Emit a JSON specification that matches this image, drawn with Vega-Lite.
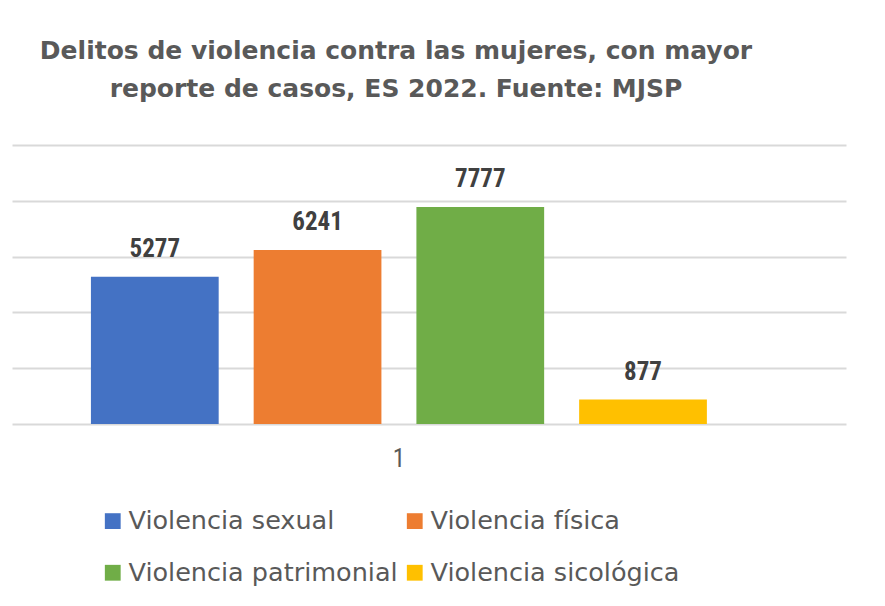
{
  "$schema": "https://vega.github.io/schema/vega-lite/v6.json",
  "width": 834,
  "height": 279,
  "autosize": {"type": "none"},
  "padding": {"left": 12, "top": 145, "right": 39, "bottom": 182},
  "background": "white",
  "title": {
    "text": ["Delitos de violencia contra las mujeres, con mayor", "reporte de casos, ES 2022. Fuente: MJSP"],
    "font": "DejaVu Sans",
    "fontSize": 25,
    "fontWeight": "bold",
    "color": "#595959",
    "lineHeight": 38,
    "anchor": "middle",
    "dx": -33,
    "offset": 43
  },
  "data": {
    "values": [
      {"grupo": "1", "tipo": "Violencia sexual", "casos": 5277},
      {"grupo": "1", "tipo": "Violencia física", "casos": 6241},
      {"grupo": "1", "tipo": "Violencia patrimonial", "casos": 7777},
      {"grupo": "1", "tipo": "Violencia sicológica", "casos": 877}
    ]
  },
  "encoding": {
    "x": {
      "field": "grupo", "type": "nominal",
      "scale": {"paddingInner": 0, "paddingOuter": 0.177, "align": 0.362},
      "axis": {"title": null, "labelAngle": 0, "ticks": false, "domain": false, "labelFont": "Liberation Sans Narrow, Roboto Condensed, Roboto", "labelFontSize": 25, "labelColor": "#595959", "labelPadding": 22}
    },
    "xOffset": {
      "field": "tipo", "type": "nominal",
      "sort": ["Violencia sexual", "Violencia física", "Violencia patrimonial", "Violencia sicológica"],
      "scale": {"paddingInner": 0.215, "paddingOuter": 0}
    },
    "y": {
      "field": "casos", "type": "quantitative",
      "scale": {"domain": [0, 10000]},
      "axis": {"title": null, "labels": false, "ticks": false, "domain": false, "values": [0, 2000, 4000, 6000, 8000, 10000], "gridColor": "#d9d9d9", "gridWidth": 2}
    }
  },
  "layer": [
    {
      "mark": {"type": "bar"},
      "encoding": {
        "color": {
          "field": "tipo", "type": "nominal",
          "sort": ["Violencia sexual", "Violencia física", "Violencia patrimonial", "Violencia sicológica"],
          "scale": {"domain": ["Violencia sexual", "Violencia física", "Violencia patrimonial", "Violencia sicológica"], "range": ["#4472c4", "#ed7d31", "#70ad47", "#ffc000"]},
          "legend": {
            "title": null,
            "orient": "none",
            "legendX": 88,
            "legendY": 363,
            "padding": 0,
            "direction": "horizontal",
            "columns": 2,
            "columnPadding": 4,
            "rowPadding": 25,
            "symbolType": "square",
            "symbolSize": 250,
            "symbolStrokeWidth": 0,
            "labelFont": "DejaVu Sans",
            "labelFontSize": 25.5,
            "labelColor": "#595959",
            "labelOffset": 3,
            "labelLimit": 400
          }
        }
      }
    },
    {
      "mark": {"type": "text", "baseline": "alphabetic", "dy": -20, "font": "Liberation Sans Narrow, Roboto Condensed, Roboto", "fontSize": 25, "fontWeight": "bold", "color": "#404040"},
      "encoding": {"text": {"field": "casos", "type": "quantitative", "format": "d"}}
    }
  ],
  "config": {"view": {"stroke": null}}
}
